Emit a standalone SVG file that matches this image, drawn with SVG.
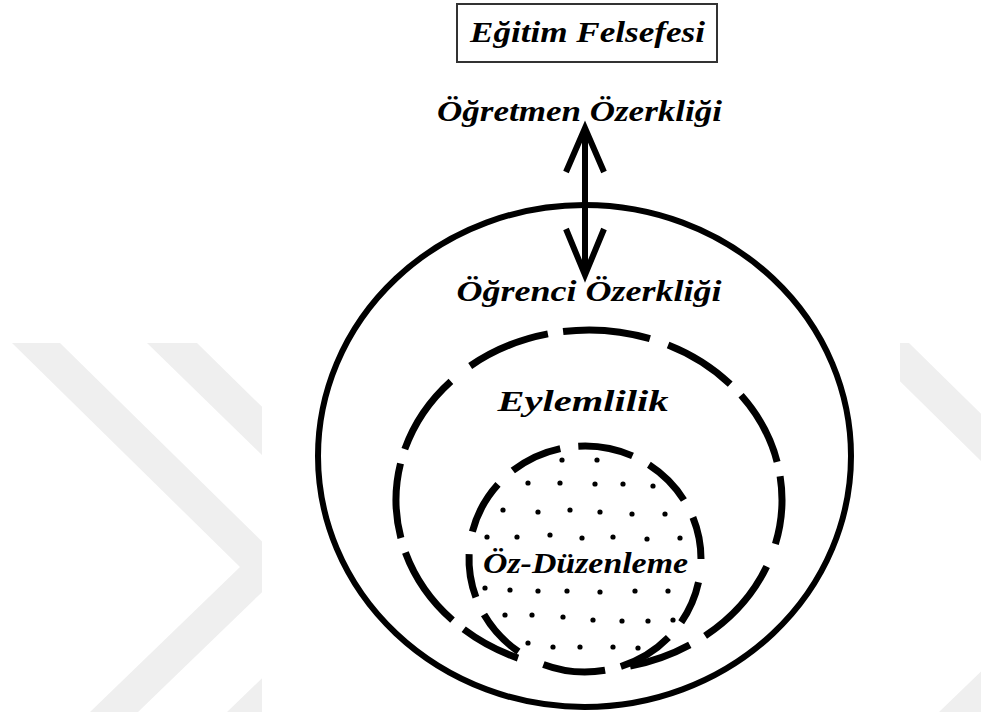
<svg xmlns="http://www.w3.org/2000/svg" width="981" height="718" viewBox="0 0 981 718">
<style>
.lbl{font-family:"Liberation Serif","Times New Roman",serif;font-weight:bold;font-style:italic;font-size:30px;fill:#000;text-anchor:middle}
.ring{fill:none;stroke:#000;stroke-width:6}
.dash{fill:none;stroke:#000;stroke-width:7;stroke-linecap:butt}
.wm{fill:#efefef}
.dot{fill:#000}
</style>
<defs>
<clipPath id="leftclip"><rect x="0" y="0" width="262" height="718"/></clipPath>
<clipPath id="rightclip"><rect x="900" y="0" width="81" height="718"/></clipPath>
</defs>
<g id="watermark">
<g clip-path="url(#leftclip)">
<polygon class="wm" points="12,343 60,343 288,567 138,712 90,712 240,567"/>
<polygon class="wm" points="147,343 197,343 425,567 275,712 227,712 377,567"/>
</g>
<g clip-path="url(#rightclip)">
<polygon class="wm" points="861,343 909,343 1137,567 987,712 939,712 1089,567"/>
</g>
</g>
<g id="title">
<rect x="457" y="4" width="260" height="58" fill="#fff" stroke="#333" stroke-width="2"/>
<text class="lbl" x="587.5" y="42" textLength="235" lengthAdjust="spacingAndGlyphs">Eğitim Felsefesi</text>
</g>
<g id="teacher-autonomy">
<text class="lbl" x="579.5" y="121" textLength="285" lengthAdjust="spacingAndGlyphs">Öğretmen Özerkliği</text>
</g>
<g id="student-autonomy">
<ellipse class="ring" cx="584.5" cy="456" rx="266.5" ry="251"/>
<text class="lbl" x="589" y="301" textLength="265" lengthAdjust="spacingAndGlyphs">Öğrenci Özerkliği</text>
</g>
<g id="agency">
<g class="dash">
<path d="M470.2,366.0 A193,170 0 0 1 547.9,333.9"/>
<path d="M404.8,449.2 A193,170 0 0 1 450.9,381.3"/>
<path d="M400.9,538.0 A193,170 0 0 1 400.5,463.5"/>
<path d="M452.5,620.2 A193,170 0 0 1 405.4,552.5"/>
<path d="M518.0,658.1 A193,170 0 0 1 463.7,629.3"/>
<path d="M563.1,331.5 A193,170 0 0 1 649.9,338.7"/>
<path d="M668.1,344.9 A193,170 0 0 1 730.2,384.1"/>
<path d="M741.1,395.3 A193,170 0 0 1 777.1,461.8"/>
<path d="M780.1,476.3 A193,170 0 0 1 775.4,544.0"/>
<path d="M766.7,566.4 A193,170 0 0 1 705.1,635.8"/>
<path d="M689.8,644.9 A193,170 0 0 1 630.1,666.1"/>
</g>
<text class="lbl" x="583" y="411" textLength="171" lengthAdjust="spacingAndGlyphs">Eylemlilik</text>
</g>
<g id="self-regulation">
<g class="dot">
<circle cx="562" cy="460" r="2.6"/><circle cx="597" cy="460" r="2.6"/>
<circle cx="528" cy="483" r="2.6"/><circle cx="560" cy="483" r="2.6"/><circle cx="595" cy="484" r="2.6"/><circle cx="623" cy="484" r="2.6"/><circle cx="653" cy="486" r="2.6"/>
<circle cx="503" cy="510" r="2.6"/><circle cx="538" cy="512" r="2.6"/><circle cx="570" cy="510" r="2.6"/><circle cx="600" cy="512" r="2.6"/><circle cx="632" cy="514" r="2.6"/><circle cx="665" cy="514" r="2.6"/>
<circle cx="487" cy="537" r="2.6"/><circle cx="517" cy="537" r="2.6"/><circle cx="550" cy="535" r="2.6"/><circle cx="582" cy="538" r="2.6"/><circle cx="613" cy="537" r="2.6"/><circle cx="647" cy="539" r="2.6"/><circle cx="680" cy="538" r="2.6"/>
<circle cx="485" cy="588" r="2.6"/><circle cx="510" cy="590" r="2.6"/><circle cx="538" cy="591" r="2.6"/><circle cx="567" cy="591" r="2.6"/><circle cx="600" cy="592" r="2.6"/><circle cx="635" cy="591" r="2.6"/><circle cx="668" cy="591" r="2.6"/>
<circle cx="505" cy="615" r="2.6"/><circle cx="532" cy="615" r="2.6"/><circle cx="563" cy="617" r="2.6"/><circle cx="593" cy="620" r="2.6"/><circle cx="622" cy="621" r="2.6"/><circle cx="648" cy="621" r="2.6"/><circle cx="673" cy="620" r="2.6"/>
<circle cx="528" cy="643" r="2.6"/><circle cx="553" cy="647" r="2.6"/><circle cx="580" cy="647" r="2.6"/><circle cx="613" cy="647" r="2.6"/><circle cx="638" cy="648" r="2.6"/>
</g>
<g class="dash">
<path d="M512.8,470.6 A116,113 0 0 1 560.3,448.6"/>
<path d="M578.3,446.2 A116,113 0 0 1 632.5,455.9"/>
<path d="M648.9,464.7 A116,113 0 0 1 683.9,500.0"/>
<path d="M692.9,517.4 A116,113 0 0 1 701,559"/>
<path d="M698.5,582.3 A116,113 0 0 1 681.2,622.2"/>
<path d="M668.4,637.5 A116,113 0 0 1 620.8,666.5"/>
<path d="M605.1,670.3 A116,113 0 0 1 543.4,664.5"/>
<path d="M518.5,651.6 A116,113 0 0 1 484.0,614.6"/>
<path d="M475.9,597.3 A116,113 0 0 1 469.1,554.1"/>
<path d="M472.4,531.7 A116,113 0 0 1 498.0,484.3"/>
</g>
<text class="lbl" x="585.5" y="573" textLength="205" lengthAdjust="spacingAndGlyphs">Öz-Düzenleme</text>
</g>
<g id="connectors">
<line x1="585" y1="132" x2="585" y2="272" stroke="#000" stroke-width="6"/>
<polyline points="566,172 585,128 604,172" fill="none" stroke="#000" stroke-width="6" stroke-linejoin="miter"/>
<polyline points="566,229 585,275 604,229" fill="none" stroke="#000" stroke-width="6" stroke-linejoin="miter"/>
</g>
</svg>
